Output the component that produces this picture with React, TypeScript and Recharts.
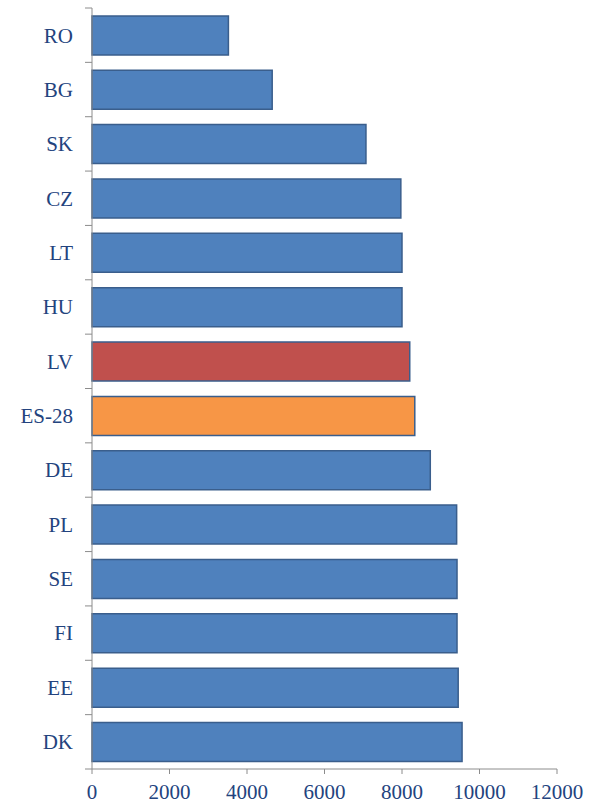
import React from "react";
import { BarChart, Bar, XAxis, YAxis, Cell } from "recharts";

const categories = ["RO", "BG", "SK", "CZ", "LT", "HU", "LV", "ES-28", "DE", "PL", "SE", "FI", "EE", "DK"];
const values = [3520, 4650, 7070, 7970, 8000, 8000, 8200, 8330, 8730, 9410, 9420, 9420, 9450, 9550];
const xTicks = [0, 2000, 4000, 6000, 8000, 10000, 12000];
const highlightColors: Record<string, string> = { LV: "#C0504D", "ES-28": "#F79646" };
const defaultColor = "#4F81BD";

const data = categories.map((c, i) => ({ name: c, value: values[i] }));

const AXIS_COLOR = "#8C8C8C";
const TEXT_COLOR = "#23437E";
const FONT = "'Liberation Serif', 'Times New Roman', serif";

const YTick = (props: any) => {
  const { y, payload, index, visibleTicksCount } = props;
  const half = payload && payload.offset ? payload.offset : 27.18;
  const axisX = 92;
  const isLast = index === (visibleTicksCount ? visibleTicksCount - 1 : categories.length - 1);
  return (
    <g>
      <line x1={axisX - 7} x2={axisX} y1={y - half} y2={y - half} stroke={AXIS_COLOR} strokeWidth={1} />
      {isLast && (
        <line x1={axisX - 7} x2={axisX} y1={y + half} y2={y + half} stroke={AXIS_COLOR} strokeWidth={1} />
      )}
      <text
        x={axisX - 19}
        y={y}
        dy="0.35em"
        textAnchor="end"
        fill={TEXT_COLOR}
        fontSize={21}
        fontFamily={FONT}
      >
        {payload.value}
      </text>
    </g>
  );
};

export default function App() {
  return (
    <div style={{ position: "absolute", left: 0, top: 0, background: "#fff" }}>
      <BarChart
        width={590}
        height={805}
        data={data}
        layout="vertical"
        margin={{ top: 8, right: 33, left: 0, bottom: 0 }}
        barCategoryGap="14.5%"
      >
        <XAxis
          type="number"
          domain={[0, 12000]}
          ticks={xTicks}
          interval={0}
          height={36}
          tickSize={5}
          tickMargin={10}
          axisLine={{ stroke: AXIS_COLOR }}
          tickLine={{ stroke: AXIS_COLOR }}
          tick={{ fill: TEXT_COLOR, fontSize: 21, fontFamily: FONT }}
        />
        <YAxis
          type="category"
          dataKey="name"
          width={92}
          interval={0}
          tickLine={false}
          axisLine={{ stroke: AXIS_COLOR }}
          tick={<YTick />}
        />
        <Bar dataKey="value" isAnimationActive={false} stroke="#3A5E8C" strokeWidth={1.5}>
          {data.map((d) => (
            <Cell key={d.name} fill={highlightColors[d.name] || defaultColor} />
          ))}
        </Bar>
      </BarChart>
    </div>
  );
}
